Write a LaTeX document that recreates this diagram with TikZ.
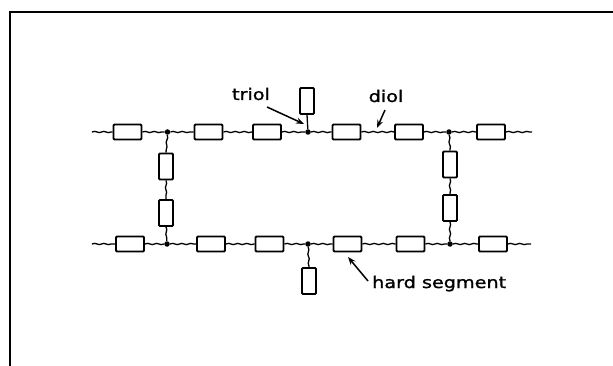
\documentclass[tikz,border=0pt]{standalone}
\usepackage{graphicx}
\usepackage{fontspec}
\setmainfont{DejaVu Sans}[BoldFont=DejaVu Sans,BoldFeatures={FakeBold=1.2}]
\usetikzlibrary{decorations.pathmorphing,arrows.meta}
\newcommand\widetext[1]{\scalebox{1.2}[1]{#1}}
\begin{document}
\begin{tikzpicture}[x=1pt,y=-1pt,
  seg/.style={draw,line width=1.8pt,rounded corners=1pt,minimum width=28pt,minimum height=15pt,inner sep=0pt},
  vseg/.style={draw,line width=1.8pt,rounded corners=1pt,minimum width=14pt,minimum height=26pt,inner sep=0pt},
  soft/.style={line width=1.3pt,decorate,decoration={snake,amplitude=0.6pt,segment length=9pt}},
  junc/.style={circle,fill,inner sep=0pt,minimum size=5.5pt},
  lbl/.style={font=\fontsize{16}{18}\selectfont\bfseries,inner sep=0pt},
  pointer/.style={line width=1.5pt,-{Stealth[length=8pt,width=6pt]}}]
\useasboundingbox (0,0) rectangle (613,366);
% frame
\draw[line width=2.2pt] (10,366) -- (10,12) -- (613,12);
% top chain
\coordinate (tl) at (92,132);
\coordinate (tr) at (532,132);
\node[seg] (t1) at (127.5,132) {};
\node[junc] (tj1) at (167.5,132) {};
\node[seg] (t2) at (208.5,132) {};
\node[seg] (t3) at (267,132) {};
\node[junc] (tj2) at (308,132) {};
\node[seg] (t4) at (346.5,132) {};
\node[seg] (t5) at (409,132) {};
\node[junc] (tj3) at (449,132) {};
\node[seg] (t6) at (491,132) {};
\draw[soft] (tl) -- (t1.west);
\draw[soft] (t1.east) -- (tj1);
\draw[soft] (tj1) -- (t2.west);
\draw[soft] (t2.east) -- (t3.west);
\draw[soft] (t3.east) -- (tj2);
\draw[soft] (tj2) -- (t4.west);
\draw[soft] (t4.east) -- (t5.west);
\draw[soft] (t5.east) -- (tj3);
\draw[soft] (tj3) -- (t6.west);
\draw[soft] (t6.east) -- (tr);
% bottom chain
\coordinate (bl) at (92,244);
\coordinate (br) at (531,244);
\node[seg] (b1) at (130,244) {};
\node[junc] (bj1) at (167,244) {};
\node[seg] (b2) at (211,244) {};
\node[seg] (b3) at (269.5,244) {};
\node[junc] (bj2) at (308,244) {};
\node[seg] (b4) at (347.5,244) {};
\node[seg] (b5) at (410.5,244) {};
\node[junc] (bj3) at (450,244) {};
\node[seg] (b6) at (493,244) {};
\draw[soft] (bl) -- (b1.west);
\draw[soft] (b1.east) -- (bj1);
\draw[soft] (bj1) -- (b2.west);
\draw[soft] (b2.east) -- (b3.west);
\draw[soft] (b3.east) -- (bj2);
\draw[soft] (bj2) -- (b4.west);
\draw[soft] (b4.east) -- (b5.west);
\draw[soft] (b5.east) -- (bj3);
\draw[soft] (bj3) -- (b6.west);
\draw[soft] (b6.east) -- (br);
% cross-links
\node[vseg] (l1) at (166,166.5) {};
\node[vseg] (l2) at (166,213) {};
\node[vseg] (r1) at (450,164.5) {};
\node[vseg] (r2) at (450,208) {};
\draw[soft] (tj1) -- (l1.north);
\draw[soft] (l1.south) -- (l2.north);
\draw[soft] (l2.south) -- (bj1);
\draw[soft] (tj3) -- (r1.north);
\draw[soft] (r1.south) -- (r2.north);
\draw[soft] (r2.south) -- (bj3);
% pendants
\node[vseg] (tp) at (307,101) {};
\draw[line width=1.3pt] (tp.south) -- (tj2);
\node[vseg] (bp) at (309,281) {};
\draw[soft] (bj2) -- (bp.north);
% labels
\node[lbl,anchor=base] (triol) at (251,100) {\widetext{triol}};
\node[lbl,anchor=base] (diol) at (386,102) {\widetext{diol}};
\node[lbl,anchor=base west] (hard) at (372,288) {\widetext{hard segment}};
\coordinate (triolA) at (267,107);
\coordinate (triolB) at (304,124);
\coordinate (diolA) at (385,110);
\coordinate (diolB) at (377,128);
\coordinate (hardA) at (368,281);
\coordinate (hardB) at (348,257);
\draw[pointer] (triolA) -- (triolB);
\draw[pointer] (diolA) -- (diolB);
\draw[pointer] (hardA) -- (hardB);
\end{tikzpicture}
\end{document}
